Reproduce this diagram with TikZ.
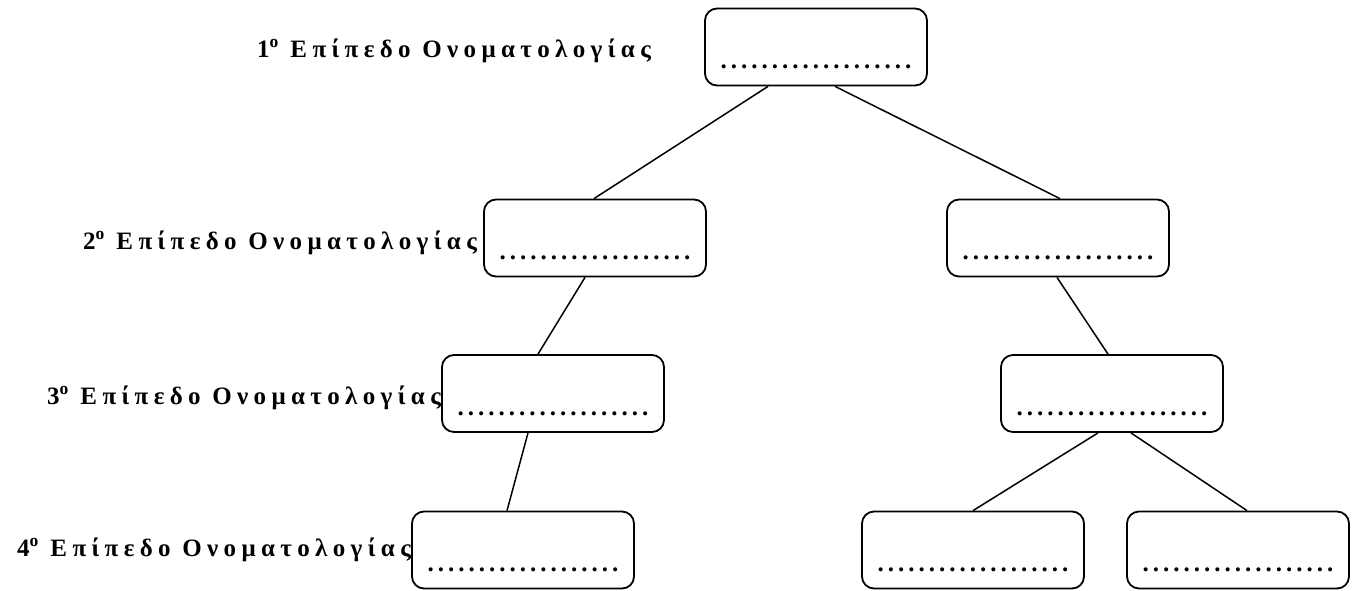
\documentclass[tikz,border=0pt]{standalone}
\usepackage{fontspec}
\setmainfont{Liberation Serif}
\newfontfamily\lblfont[LetterSpace=21.5]{Liberation Serif}
\newfontfamily\dotfont[LetterSpace=16]{Liberation Serif}
\begin{document}
\begin{tikzpicture}[x=1pt,y=-1pt,
  box/.style={draw,line width=1.8pt,rounded corners=12pt,minimum width=222pt,minimum height=77pt,inner sep=0pt,text height=43pt,text depth=0pt,font=\dotfont\bfseries\fontsize{25}{29}\selectfont},
  lvl/.style={anchor=base east,inner sep=0pt,font=\lblfont\bfseries\fontsize{25}{29}\selectfont},
  conn/.style={line width=1.5pt}]
\useasboundingbox (0,0) rectangle (1355,590);
\newcommand{\dotrow}{...................}
\node[box] (t1) at (816,47) {\dotrow};
\node[box] (l2a) at (595,238) {\dotrow};
\node[box] (l2b) at (1058,238) {\dotrow};
\node[box] (l3a) at (553,393.5) {\dotrow};
\node[box] (l3b) at (1112,393.5) {\dotrow};
\node[box] (l4a) at (523,550) {\dotrow};
\node[box] (l4b) at (973,550) {\dotrow};
\node[box] (l4c) at (1238,550) {\dotrow};
\node[lvl] (n1) at (651,57) {1\textsuperscript{o} Επίπεδο Ονοματολογίας};
\node[lvl] (n2) at (477,249) {2\textsuperscript{o} Επίπεδο Ονοματολογίας};
\node[lvl] (n3) at (441,404) {3\textsuperscript{o} Επίπεδο Ονοματολογίας};
\node[lvl] (n4) at (411,556) {4\textsuperscript{o} Επίπεδο Ονοματολογίας};
\draw[conn] ([xshift=-48pt]t1.south) -- ([xshift=-1pt]l2a.north);
\draw[conn] ([xshift=19pt]t1.south) -- ([xshift=2pt]l2b.north);
\draw[conn] ([xshift=-10pt]l2a.south) -- ([xshift=-15pt]l3a.north);
\draw[conn] ([xshift=-1pt]l2b.south) -- ([xshift=-4pt]l3b.north);
\draw[conn] ([xshift=-25pt]l3a.south) -- ([xshift=-16pt]l4a.north);
\draw[conn] ([xshift=-14pt]l3b.south) -- (l4b.north);
\draw[conn] ([xshift=19pt]l3b.south) -- ([xshift=9pt]l4c.north);
\end{tikzpicture}
\end{document}
